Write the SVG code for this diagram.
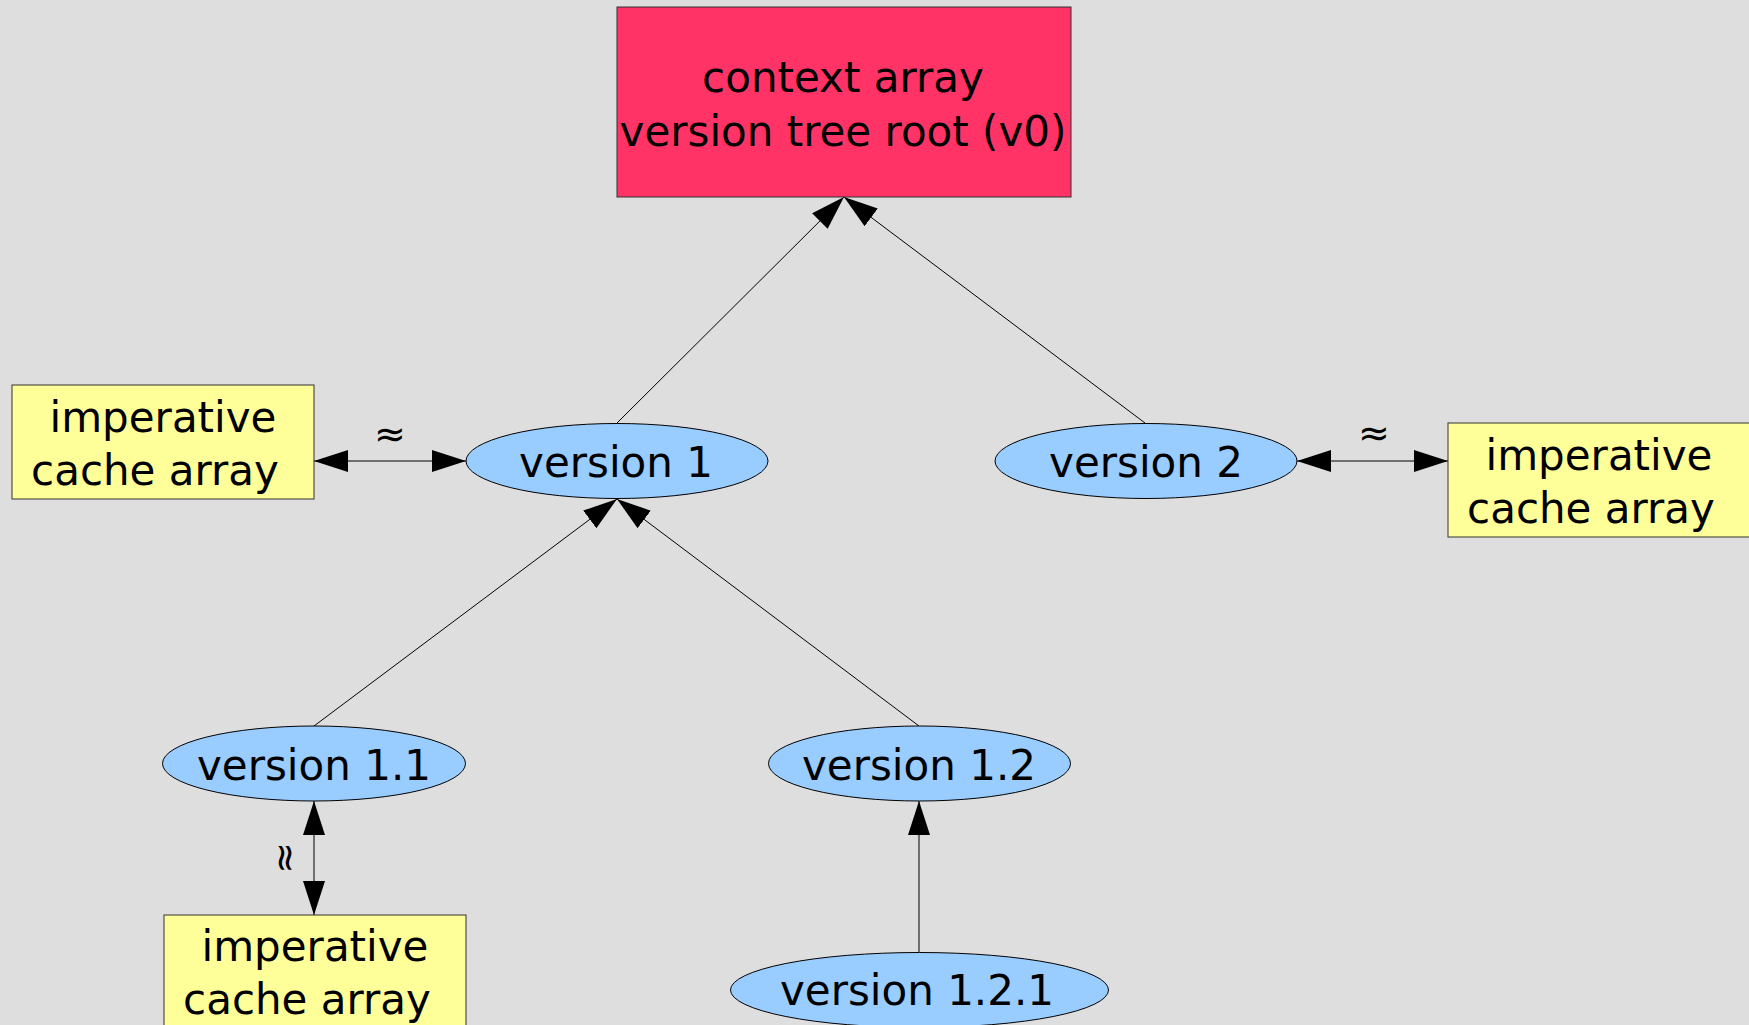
<svg xmlns="http://www.w3.org/2000/svg" width="1749" height="1025" viewBox="0 0 1749 1025">
<style>
text{font-family:"DejaVu Sans","Liberation Sans",sans-serif;font-size:42px;fill:#000;text-anchor:middle}
.ell{fill:#99ccff;stroke:#000;stroke-width:1}
.box{fill:#ffff99;stroke:#333;stroke-width:1}
.root{fill:#ff3366;stroke:#333;stroke-width:1}
.edge{stroke:#000;stroke-width:1;fill:none}
.approx{font-size:38px}
</style>
<defs>
<marker id="ah" markerUnits="userSpaceOnUse" markerWidth="36" markerHeight="24" refX="34" refY="11" orient="auto-start-reverse">
<path d="M0,0 L34,11 L0,22 z" fill="#000"/>
</marker>
</defs>
<rect width="1749" height="1025" fill="#dedede"/>
<g id="connectors">
<line class="edge" x1="617" y1="423" x2="844" y2="197" marker-end="url(#ah)"/>
<line class="edge" x1="1145" y1="423" x2="844" y2="197" marker-end="url(#ah)"/>
<line class="edge" x1="314" y1="726" x2="617" y2="499" marker-end="url(#ah)"/>
<line class="edge" x1="919" y1="726" x2="617" y2="499" marker-end="url(#ah)"/>
<line class="edge" x1="919" y1="952" x2="919" y2="801" marker-end="url(#ah)"/>
<line class="edge" x1="314" y1="461" x2="466" y2="461" marker-start="url(#ah)" marker-end="url(#ah)"/>
<line class="edge" x1="1297" y1="461" x2="1448" y2="461" marker-start="url(#ah)" marker-end="url(#ah)"/>
<line class="edge" x1="314" y1="801" x2="314" y2="915" marker-start="url(#ah)" marker-end="url(#ah)"/>
<text class="approx" x="390" y="447">≈</text>
<text class="approx" x="1374" y="446">≈</text>
<text class="approx" x="286" y="871" transform="rotate(90 286 858)">≈</text>
</g>
<g id="root">
<rect class="root" x="617" y="7" width="454" height="190"/>
<text x="843" y="92">context array</text>
<text x="843" y="146">version tree root (v0)</text>
</g>
<g id="version1">
<ellipse class="ell" cx="617" cy="461" rx="151" ry="37.5"/>
<text x="616" y="477">version 1</text>
</g>
<g id="version2">
<ellipse class="ell" cx="1146" cy="461" rx="151" ry="37.5"/>
<text x="1146" y="477">version 2</text>
</g>
<g id="version1_1">
<ellipse class="ell" cx="314" cy="763.5" rx="151.5" ry="37.5"/>
<text x="314" y="780">version 1.1</text>
</g>
<g id="version1_2">
<ellipse class="ell" cx="919.5" cy="763.5" rx="151" ry="37.5"/>
<text x="919" y="780">version 1.2</text>
</g>
<g id="version1_2_1">
<ellipse class="ell" cx="919.5" cy="990" rx="189" ry="37.5"/>
<text x="917" y="1005">version 1.2.1</text>
</g>
<g id="cache_left">
<rect class="box" x="12" y="385" width="302" height="114"/>
<text x="163" y="432">imperative</text>
<text x="155" y="485">cache array</text>
</g>
<g id="cache_right">
<rect class="box" x="1448" y="423" width="302" height="114"/>
<text x="1599" y="470">imperative</text>
<text x="1591" y="523">cache array</text>
</g>
<g id="cache_bottom">
<rect class="box" x="164" y="915" width="302" height="114"/>
<text x="315" y="961">imperative</text>
<text x="307" y="1014">cache array</text>
</g>
</svg>
